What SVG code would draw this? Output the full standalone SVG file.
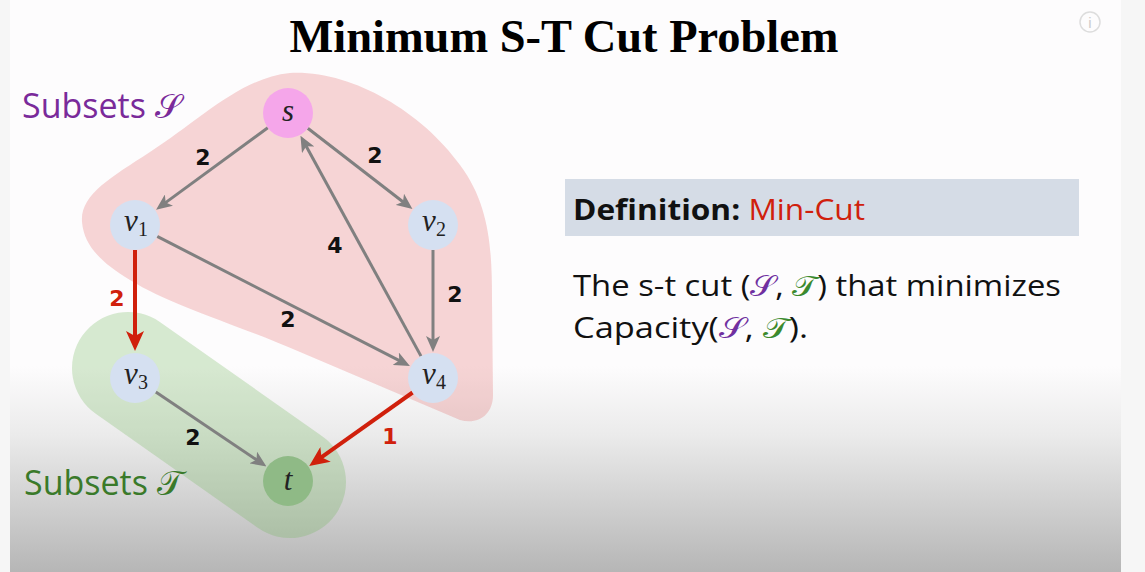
<svg xmlns="http://www.w3.org/2000/svg" width="1145" height="572" viewBox="0 0 1145 572">
<defs>
<linearGradient id="bg" x1="0" y1="0" x2="0" y2="1">
<stop offset="0" stop-color="#fdfcfd"/>
<stop offset="0.64" stop-color="#fdfcfd"/>
<stop offset="0.76" stop-color="#ebebeb"/>
<stop offset="1" stop-color="#b6b6b6"/>
</linearGradient>
<marker id="ag" viewBox="0 0 16 14" refX="8" refY="7" markerWidth="16" markerHeight="14" markerUnits="userSpaceOnUse" orient="auto">
<path d="M0,0 L16,7 L0,14 L4,7 Z" fill="#808080"/>
</marker>
<marker id="ar" viewBox="0 0 20 18" refX="10" refY="9" markerWidth="20" markerHeight="18" markerUnits="userSpaceOnUse" orient="auto">
<path d="M0,0 L20,9 L0,18 L5,9 Z" fill="#d0200c"/>
</marker>
</defs>
<style>
.eg{stroke:#808080;stroke-width:3;fill:none;marker-end:url(#ag)}
.er{stroke:#d0200c;stroke-width:4;fill:none;marker-end:url(#ar)}
.lb{font-family:"DejaVu Sans",sans-serif;font-weight:bold;font-size:22px;text-anchor:middle;fill:#111}
.lr{fill:#d0200c}
.nv{fill:#d5e0f1}
.nl{font-family:"Liberation Serif","DejaVu Serif",serif;font-style:italic;font-size:31px;text-anchor:middle;fill:#222}
.sub{font-style:normal;font-size:20px}
.cal{font-family:"Open Sans","Noto Sans",sans-serif}
.scr{font-family:"DejaVu Serif",serif}
</style>
<rect width="1145" height="572" fill="#f6f6f6"/>
<rect x="10" y="0" width="1111" height="572" fill="url(#bg)"/>
<g id="info"><circle cx="1090" cy="22" r="10" fill="none" stroke="#dddddd" stroke-width="1.5"/><text x="1090" y="28" font-family="Liberation Sans,sans-serif" font-size="15" text-anchor="middle" fill="#cccccc">i</text></g>
<text x="564" y="52" font-family="Liberation Serif,serif" font-weight="bold" font-size="46" text-anchor="middle" textLength="549" lengthAdjust="spacingAndGlyphs" fill="#000">Minimum S-T Cut Problem</text>
<g id="subsetS">
<path d="M82,222 C80,195 110,178 150,152 C200,120 240,78 290,73 C350,70 420,110 460,165 C490,205 492,250 492,300 L493,395 C493,415 478,425 460,420 L300,352 C230,322 170,305 130,280 C100,262 84,245 82,222 Z" fill="rgb(220,55,55)" fill-opacity="0.2"/>
<text x="22" y="118" class="cal" font-size="34" fill="#7a2a9a">Subsets <tspan class="scr">𝒮</tspan></text>
</g>
<g id="subsetT">
<line x1="128" y1="368" x2="290" y2="482" stroke="rgb(110,180,90)" stroke-opacity="0.27" stroke-width="112" stroke-linecap="round"/>
<text x="24" y="495" class="cal" font-size="34" fill="#3a7a2a">Subsets <tspan class="scr">𝒯</tspan></text>
</g>
<g id="connectors">
<line class="eg" x1="267.8" y1="127.8" x2="162.5" y2="204.9"/>
<line class="eg" x1="307.8" y1="128.3" x2="406.1" y2="204.2"/>
<line class="eg" x1="421" y1="356.1" x2="304.3" y2="142.8"/>
<line class="eg" x1="157.2" y1="236.4" x2="402.8" y2="362.4"/>
<line class="eg" x1="433" y1="250" x2="433" y2="344"/>
<line class="er" x1="135" y1="250" x2="135" y2="341"/>
<line class="eg" x1="155.8" y1="392" x2="259.8" y2="462"/>
<line class="er" x1="412.6" y1="392.5" x2="317.4" y2="460.2"/>
<text class="lb" x="203" y="165">2</text>
<text class="lb" x="375" y="163">2</text>
<text class="lb" x="335" y="253">4</text>
<text class="lb" x="288" y="327">2</text>
<text class="lb" x="455" y="302">2</text>
<text class="lb lr" x="117" y="306">2</text>
<text class="lb" x="193" y="445">2</text>
<text class="lb lr" x="390" y="444">1</text>
</g>
<g id="node-s"><circle cx="288" cy="113" r="25" fill="#f5a6ea"/><text class="nl" x="288" y="121">s</text></g>
<g id="node-v1"><circle class="nv" cx="135" cy="225" r="25"/><text class="nl" x="136" y="231">v<tspan class="sub" dy="5">1</tspan></text></g>
<g id="node-v2"><circle class="nv" cx="433" cy="225" r="25"/><text class="nl" x="434" y="231">v<tspan class="sub" dy="5">2</tspan></text></g>
<g id="node-v3"><circle class="nv" cx="135" cy="378" r="25"/><text class="nl" x="136" y="384">v<tspan class="sub" dy="5">3</tspan></text></g>
<g id="node-v4"><circle class="nv" cx="433" cy="378" r="25"/><text class="nl" x="434" y="384">v<tspan class="sub" dy="5">4</tspan></text></g>
<g id="node-t"><circle cx="288" cy="481" r="25" fill="#8fba86"/><text class="nl" x="288" y="490">t</text></g>
<g id="definition">
<rect x="565" y="179" width="514" height="57" fill="#d5dce6"/>
<text x="573" y="220" class="cal" font-size="29" textLength="292" lengthAdjust="spacingAndGlyphs"><tspan font-weight="bold" fill="#111">Definition: </tspan><tspan fill="#d0200c">Min-Cut</tspan></text>
<text x="573" y="296" class="cal" font-size="29" fill="#111" textLength="488" lengthAdjust="spacingAndGlyphs">The s-t cut (<tspan fill="#7030a0" class="scr">𝒮</tspan>, <tspan fill="#3b8a2e" class="scr">𝒯</tspan>) that minimizes</text>
<text x="573" y="338" class="cal" font-size="29" fill="#111" textLength="235" lengthAdjust="spacingAndGlyphs">Capacity(<tspan fill="#7030a0" class="scr">𝒮</tspan>, <tspan fill="#3b8a2e" class="scr">𝒯</tspan>).</text>
</g>
</svg>
